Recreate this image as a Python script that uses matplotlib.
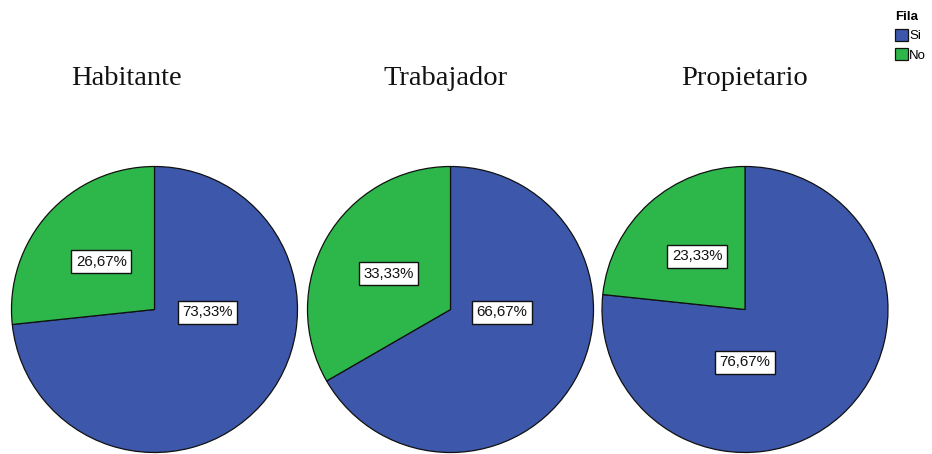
import matplotlib

matplotlib.use("Agg")
import matplotlib.pyplot as plt

GROUPS = ["Habitante", "Trabajador", "Propietario"]
CATEGORIES = ["Si", "No"]
SI_PCT = [73.33, 66.67, 76.67]
NO_PCT = [26.67, 33.33, 23.33]

COLORS = {"Si": "#3d57aa", "No": "#2db74a"}

# layout in pixels (figure is 932x454, axes spans it 1:1)
W, H = 932, 454
CENTERS_X = [154.5, 450.5, 745]
CENTER_Y = H - 309.5
RADIUS = 143
TITLE_X = [126, 445, 745]
TITLE_BASELINE = H - 85
# SPSS puts the "Si" labels off the wedge middle; offsets in radius units
SI_LABEL_OFFSETS = [(0.37, -0.02), (0.36, -0.02), (0.0, -0.37)]


def pct_label(p):
    return f"{p:.2f}%".replace(".", ",")


fig = plt.figure(figsize=(W / 100, H / 100), dpi=100)
ax = fig.add_axes([0, 0, 1, 1])

wedges = None
for i, group in enumerate(GROUPS):
    cx = CENTERS_X[i]
    wedges, _, autotexts = ax.pie(
        [SI_PCT[i], NO_PCT[i]],
        colors=[COLORS[c] for c in CATEGORIES],
        startangle=90,
        counterclock=False,
        center=(cx, CENTER_Y),
        radius=RADIUS,
        autopct=pct_label,
        pctdistance=0.5,
        wedgeprops={"edgecolor": "#111111", "linewidth": 0.9},
        textprops={"fontsize": 10.8, "family": "Liberation Sans", "color": "#111111"},
    )
    dx, dy = SI_LABEL_OFFSETS[i]
    autotexts[0].set_position((cx + dx * RADIUS, CENTER_Y + dy * RADIUS))
    for t in autotexts:
        t.set_bbox({"boxstyle": "square,pad=0.3", "facecolor": "white",
                    "edgecolor": "#111111", "linewidth": 1.0})
    ax.text(TITLE_X[i], TITLE_BASELINE, group, ha="center", va="baseline",
            fontsize=20.5, family="Liberation Serif", color="#111111")

ax.set_xlim(0, W)
ax.set_ylim(0, H)
ax.set_aspect("equal")
ax.axis("off")

leg = fig.legend(
    wedges,
    CATEGORIES,
    title="Fila",
    loc="upper left",
    bbox_to_anchor=(886 / W, 1 - 2 / H),
    frameon=False,
    handlelength=0.95,
    handleheight=0.95,
    handletextpad=0.12,
    labelspacing=0.45,
    borderpad=0.2,
    prop={"family": "Liberation Sans", "size": 9.5},
    title_fontproperties={"family": "Liberation Sans", "size": 9.5, "weight": "bold"},
)
leg._legend_box.align = "left"

fig.savefig("out.png", dpi=100)
plt.close(fig)
